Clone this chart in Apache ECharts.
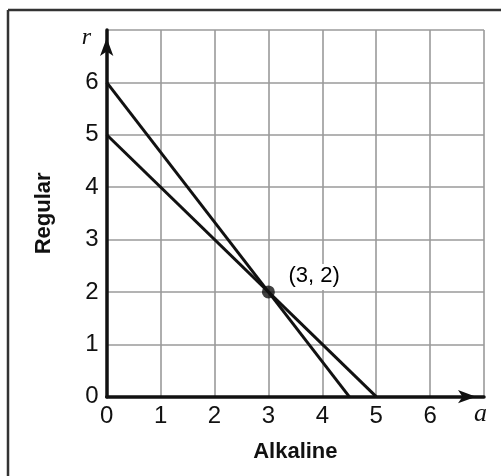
<!DOCTYPE html>
<html><head><meta charset="utf-8">
<script src="https://cdn.jsdelivr.net/npm/echarts@6/dist/echarts.min.js"></script>
<style>html,body{margin:0;padding:0;background:#fff}#c{width:501px;height:476px}</style>
</head><body><div id="c"></div>
<script>
const xTicks = [0,1,2,3,4,5,6,7];
const yTicks = [0,1,2,3,4,5,6,7];
const lineA = [[0,6],[4.5,0]];   // 4a + 3r = 18
const lineB = [[0,5],[5,0]];     // a + r = 5
const solution = [[3,2]];
const solutionLabel = '(3, 2)';
const xName = 'Alkaline', yName = 'Regular';
const xVar = 'a', yVar = 'r';

const chart = echarts.init(document.getElementById('c'));
const axisCommon = {
  min: 0, max: 7, interval: 1,
  axisLine: {show: true, lineStyle: {color: '#111', width: 3.5}, symbol: ['none','arrow'], symbolSize: [10, 18], symbolOffset: [0, -8]},
  axisTick: {show: false},
  splitLine: {show: true, lineStyle: {color: '#9a9a9a', width: 1.6}},
  axisLabel: {color: '#111', fontSize: 24, fontFamily: 'Liberation Sans, Arial, sans-serif', margin: 8,
    formatter: v => v === 7 ? '' : String(v)},
  nameLocation: 'middle',
  nameTextStyle: {color: '#111', fontSize: 22, fontWeight: 'bold', fontFamily: 'Liberation Sans, Arial, sans-serif'}
};
chart.setOption({
  animation: false,
  grid: {left: 106.7, right: 17, top: 30, bottom: 79.3},
  xAxis: Object.assign({}, axisCommon, {type: 'value', name: xName, nameGap: 44}),
  yAxis: Object.assign({}, axisCommon, {type: 'value', name: yName, nameGap: 52}),
  series: [
    {type: 'line', data: lineA, symbol: 'none', lineStyle: {color: '#111', width: 3}, z: 3},
    {type: 'line', data: lineB, symbol: 'none', lineStyle: {color: '#111', width: 3}, z: 3},
    {type: 'scatter', data: solution, symbolSize: 13, itemStyle: {color: '#111'}, z: 5}
  ]
});
const pr = chart.convertToPixel({gridIndex: 0}, [0, 7]);
const pa = chart.convertToPixel({gridIndex: 0}, [7, 0]);
const ps = chart.convertToPixel({gridIndex: 0}, solution[0]);
chart.setOption({
  graphic: [
    {type: 'line', shape: {x1: 8, y1: 10, x2: 501, y2: 10}, style: {stroke: '#333', lineWidth: 2.5}},
    {type: 'line', shape: {x1: 8, y1: 10, x2: 8, y2: 476}, style: {stroke: '#333', lineWidth: 2.5}},
    {type: 'rect', shape: {x: ps[0] + 14, y: ps[1] - 28, width: 70, height: 26}, style: {fill: '#fff'}, z: 10},
    {type: 'text', x: ps[0] + 20, y: ps[1] - 27, z: 11,
     style: {text: solutionLabel, font: '22px "Liberation Sans", Arial, sans-serif', fill: '#000'}},
    {type: 'text', x: pr[0] - 25, y: pr[1] - 4, style: {text: yVar, font: 'italic 24px "Liberation Serif", serif', fill: '#111'}},
    {type: 'text', x: pa[0] - 10, y: pa[1] + 4, style: {text: xVar, font: 'italic 26px "Liberation Serif", serif', fill: '#111'}}
  ]
});
</script></body></html>
